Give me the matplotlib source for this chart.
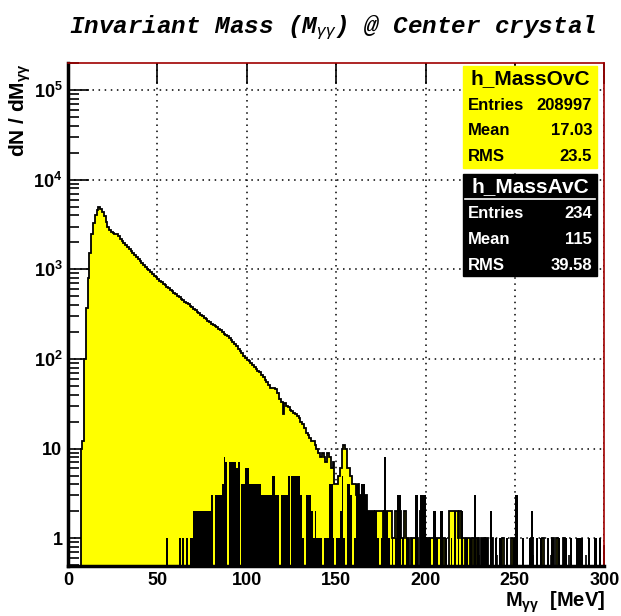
import matplotlib
matplotlib.use("Agg")
import matplotlib.pyplot as plt
import numpy as np
from matplotlib.ticker import FixedLocator, FixedFormatter, NullFormatter

plt.rcParams['mathtext.fontset'] = 'custom'
plt.rcParams['mathtext.rm'] = 'Liberation Sans'
plt.rcParams['mathtext.it'] = 'Liberation Sans:italic'
plt.rcParams['mathtext.bf'] = 'Liberation Sans:bold'

# 1 MeV bins from 0 to 300
edges = np.arange(0, 301, 1)

# h_MassOvC: counts per bin
mass_ovc = np.array([
    0, 0, 0, 0, 0, 0, 0, 10, 12, 100,
    370, 800, 1500, 2500, 3300, 4000, 4600, 4900, 4700, 4300,
    3900, 3400, 3000, 2750, 2600, 2550, 2500, 2450, 2350, 2200,
    2050, 1950, 1850, 1750, 1680, 1600, 1520, 1450, 1380, 1300,
    1240, 1180, 1120, 1070, 1020, 980, 940, 890, 850, 810,
    770, 745, 720, 690, 665, 640, 615, 590, 570, 548,
    530, 508, 492, 470, 452, 435, 420, 405, 392, 378,
    362, 350, 336, 322, 310, 298, 288, 276, 265, 256,
    248, 240, 232, 225, 218, 208, 200, 192, 186, 178,
    170, 163, 156, 148, 140, 130, 122, 115, 108, 102,
    98, 94, 90, 86, 82, 78, 74, 71, 66, 63,
    58, 55, 51, 48, 47, 48, 46, 42, 36, 33,
    24, 32, 30, 29, 27, 26, 25, 24, 23, 22,
    20, 19, 17, 15, 14, 13, 12, 12, 11, 10,
    9, 8, 9, 8, 7, 9, 8, 6, 7, 4,
    4, 5, 6, 10, 11, 10, 6, 6, 5, 4,
    4, 3, 4, 3, 3, 2, 3, 2, 2, 2,
    2, 1, 2, 2, 2, 2, 1, 2, 2, 2,
    2, 1, 1, 2, 1, 2, 1, 1, 2, 1,
    1, 0, 1, 1, 1, 1, 0, 2, 1, 1,
    0, 1, 1, 1, 1, 0, 1, 1, 1, 0,
    1, 0, 0, 2, 2, 2, 2, 2, 1, 2,
    1, 1, 0, 1, 1, 0, 1, 0, 1, 1,
    0, 1, 1, 0, 1, 0, 0, 1, 0, 0,
    0, 0, 0, 1, 0, 0, 0, 0, 1, 0,
    1, 0, 0, 0, 0, 0, 0, 0, 0, 1,
    0, 0, 0, 0, 0, 1, 0, 0, 0, 0,
    0, 1, 0, 1, 0, 0, 0, 1, 0, 0,
    0, 0, 0, 0, 0, 0, 0, 0, 0, 0,
    0, 0, 0, 0, 0, 0, 0, 0, 0, 0,
], dtype=float)

# h_MassAvC: filled bins (lower edge in MeV) and their counts
avc_bins = [55, 62, 64, 66, 68, 69,
            70, 71, 72, 73, 74, 75, 76, 77, 78, 79,
            80, 82, 83, 84, 85, 86, 87, 88,
            90, 91, 92, 93, 94, 95,
            97, 98, 99, 100, 101, 102, 103, 104, 105, 106, 107,
            108, 109, 110, 111, 112, 113, 114, 115, 116, 117,
            119, 120, 121, 122, 123, 125, 126, 127, 128, 129, 130, 131,
            133, 134, 135, 136, 137, 138, 139, 140, 141, 143, 144, 145,
            146, 147, 148, 150, 151, 152, 153, 154, 156, 157, 158, 160,
            161, 162, 163, 164, 165, 166, 167, 168, 169, 170, 171, 172,
            173, 175, 176, 177, 178, 179, 181, 183, 184, 185, 187, 189,
            190, 192, 194, 195, 197, 198, 199, 200, 201, 202, 204, 205,
            206, 208, 209, 211, 214, 216, 218, 220, 222, 223, 225, 227,
            229, 231, 232, 234, 236, 237, 239, 241, 242, 245, 249, 250,
            251, 254, 258, 259, 262, 264, 268, 270, 271, 274, 277, 278,
            281, 284, 285, 286, 287, 291, 294, 295, 297]
avc_counts = [1, 1, 1, 1, 1, 1,
              2, 2, 2, 2, 2, 2, 2, 2, 2, 2,
              3, 3, 3, 3, 3, 4, 8, 7,
              7, 7, 7, 7, 6, 7,
              4, 4, 6, 6, 4, 4, 4, 4, 4, 4, 4,
              3, 3, 3, 3, 3, 3, 5, 5, 3, 3,
              3, 3, 3, 3, 5, 5, 5, 5, 5, 5, 3, 1,
              3, 3, 3, 2, 1, 2, 1, 1, 1, 1, 1, 1,
              4, 4, 1, 1, 1, 2, 5, 1, 4, 4, 3, 1,
              4, 4, 3, 4, 4, 3, 2, 2, 2, 2, 2, 2,
              1, 1, 2, 8, 2, 1, 1, 1, 3, 3, 1, 1,
              1, 1, 3, 3, 3, 3, 3, 1, 1, 1, 2, 2,
              1, 2, 2, 1, 1, 2, 1, 2, 1, 1, 1, 3,
              1, 1, 1, 1, 2, 1, 1, 1, 1, 1, 1, 3,
              3, 1, 1, 2, 1, 1, 1, 1, 1, 1, 1, 1,
              1, 1, 1, 1, 1, 1, 1, 1, 1]

mass_avc = np.zeros(300)
mass_avc[avc_bins] = avc_counts

# stats boxes
ovc_stats = [("Entries", "208997"), ("Mean", "17.03"), ("RMS", "23.5")]
avc_stats = [("Entries", "234"), ("Mean", "115"), ("RMS", "39.58")]

ymin, ymax = 0.49, 2.0e5
floor = 1e-3

fig = plt.figure(figsize=(6.21, 6.16), dpi=100)
ax = fig.add_axes([0.1095, 0.0812, 0.8636, 0.8165])

ovc_draw = np.where(mass_ovc > 0, mass_ovc, floor)
avc_draw = np.where(mass_avc > 0, mass_avc, floor)

ax.stairs(ovc_draw, edges, baseline=floor, fill=True, color='#ffff00', zorder=2)
ax.stairs(ovc_draw, edges, baseline=floor, color='black', linewidth=1.3, zorder=3)
ax.stairs(avc_draw, edges, baseline=floor, fill=True, color='black', zorder=4)

ax.set_yscale('log')
ax.set_xlim(0, 300)
ax.set_ylim(ymin, ymax)

# ticks
ax.xaxis.set_major_locator(FixedLocator([0, 50, 100, 150, 200, 250, 300]))
ax.xaxis.set_minor_locator(FixedLocator(np.arange(0, 301, 10)))
ax.yaxis.set_major_locator(FixedLocator([1, 10, 100, 1e3, 1e4, 1e5]))
ax.yaxis.set_major_formatter(FixedFormatter(
    ['1', '10', r'$\mathbf{10^{2}}$', r'$\mathbf{10^{3}}$',
     r'$\mathbf{10^{4}}$', r'$\mathbf{10^{5}}$']))
minors = [m * 10.0 ** d for d in range(-1, 6) for m in range(2, 10)]
ax.yaxis.set_minor_locator(FixedLocator(minors))
ax.yaxis.set_minor_formatter(NullFormatter())

ax.tick_params(axis='both', which='major', direction='in', length=15, width=1.2,
               labelsize=13, pad=4)
ax.tick_params(axis='both', which='minor', direction='in', length=8, width=1.2)
ax.tick_params(axis='x', which='major', top=True, pad=4)
for lab in ax.get_xticklabels() + ax.get_yticklabels():
    lab.set_fontfamily('Liberation Sans')
    lab.set_fontweight('bold')

ax.grid(True, which='major', color='black', linestyle=(0, (1, 3)), linewidth=1.1)

for side in ('left', 'bottom'):
    ax.spines[side].set_linewidth(2.5)
    ax.spines[side].set_color('black')
    ax.spines[side].set_zorder(6)
for side in ('top', 'right'):
    ax.spines[side].set_linewidth(1.2)
    ax.spines[side].set_color('#a00000')
    ax.spines[side].set_zorder(6)

# titles
fig.text(0.535, 0.955, r'Invariant Mass (M$_{\gamma\gamma}$) @ Center crystal',
         ha='center', va='center', fontsize=17.5, family='Liberation Mono',
         style='italic', weight='bold')
fig.text(0.032, 0.898, r'dN / dM$_{\mathbf{\gamma\gamma}}$', rotation=90,
         ha='center', va='top', fontsize=15, family='Liberation Sans', weight='bold')
fig.text(0.974, 0.002, r'M$_{\mathbf{\gamma\gamma}}$  [MeV]', ha='right', va='bottom',
         fontsize=14.5, family='Liberation Sans', weight='bold')


def stats_box(name, rows, top, face, fg):
    W, H = 621.0, 616.0
    x0, x1 = 463 / W, 597 / W
    h = 102 / H
    y_top = 1 - top / H
    fig.patches.append(plt.Rectangle((x0, y_top - h), x1 - x0, h,
                                     transform=fig.transFigure, facecolor=face,
                                     edgecolor=face, zorder=10))
    fig.text((x0 + x1) / 2, y_top - 13 / H, name, ha='center', va='center',
             fontsize=15, family='Liberation Sans', weight='bold', color=fg,
             zorder=11)
    if face == 'black':
        fig.lines.append(plt.Line2D([x0 + 2 / W, x1 - 2 / W],
                                    [y_top - 25 / H, y_top - 25 / H],
                                    transform=fig.transFigure, color='white',
                                    linewidth=1.2, zorder=11))
    for i, (key, val) in enumerate(rows):
        yy = y_top - (39 + 26 * i) / H
        fig.text(x0 + 5 / W, yy, key, ha='left', va='center', fontsize=12,
                 family='Liberation Sans', weight='bold', color=fg, zorder=11)
        fig.text(x1 - 5 / W, yy, val, ha='right', va='center', fontsize=12,
                 family='Liberation Sans', weight='bold', color=fg, zorder=11)


stats_box('h_MassOvC', ovc_stats, 66, '#ffff00', 'black')
stats_box('h_MassAvC', avc_stats, 174, 'black', 'white')

fig.savefig('out.png', dpi=100)
